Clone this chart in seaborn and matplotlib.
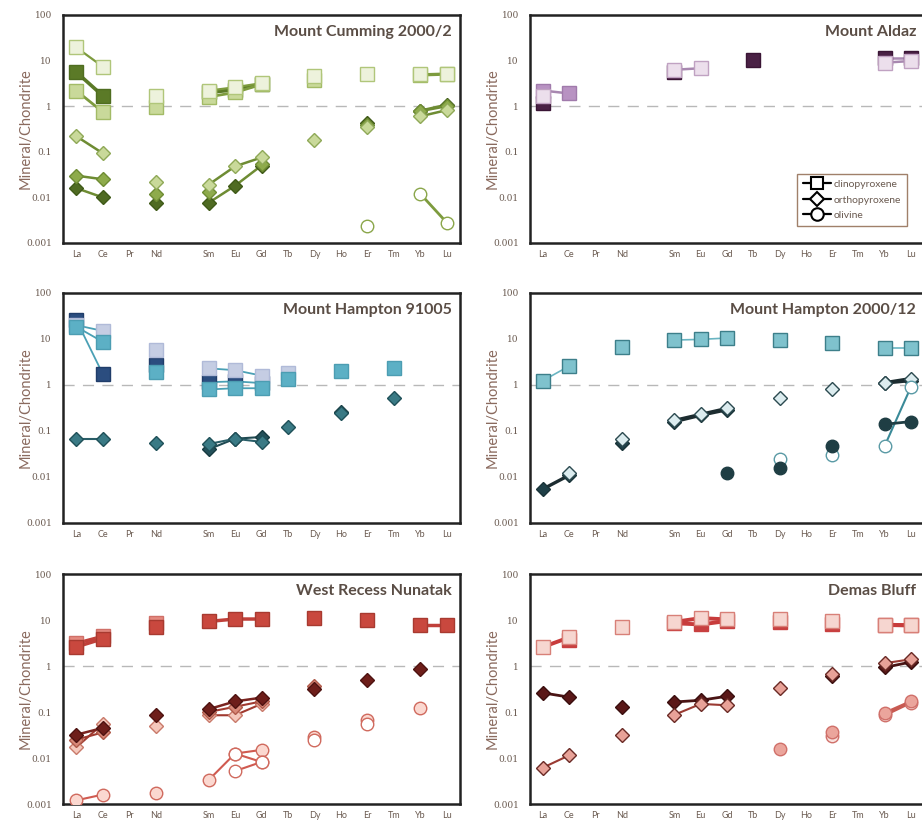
import numpy as np
import pandas as pd
import seaborn as sns
import matplotlib.pyplot as plt
from matplotlib.lines import Line2D

n = np.nan

ELEMENTS = ['La', 'Ce', 'Pr', 'Nd', '', 'Sm', 'Eu', 'Gd', 'Tb', 'Dy', 'Ho', 'Er', 'Tm', 'Yb', 'Lu']
Y_TICKS = [0.001, 0.01, 0.1, 1, 10, 100]
Y_TICK_LABELS = ['0.001', '0.01', '0.1', '1', '10', '100']
LEGEND_LABELS = ['clinopyroxene', 'orthopyroxene', 'olivine']

# Mount Cumming 2000/2
MC_CPX_DARK = [5.6, 1.7, n, n, n, 2.0, 2.3, 3.0, n, n, n, n, n, n, n]
MC_CPX_MID = [2.2, 0.75, n, 0.95, n, 1.6, 2.0, 3.0, n, 3.8, n, n, n, 4.8, 5.0]
MC_CPX_PALE = [19.5, 7.4, n, 1.7, n, 2.2, 2.6, 3.2, n, 4.7, n, 5.2, n, 5.0, 5.2]
MC_OPX_DARK = [0.016, 0.010, n, 0.0076, n, 0.0076, 0.018, 0.05, n, n, n, 0.42, n, 0.80, 1.08]
MC_OPX_MID = [0.030, 0.025, n, 0.012, n, 0.013, n, 0.055, n, n, n, 0.38, n, 0.78, 1.0]
MC_OPX_LIGHT = [0.22, 0.093, n, 0.022, n, 0.019, 0.048, 0.075, n, 0.18, n, 0.35, n, 0.60, 0.82]
MC_OL = [n, n, n, n, n, n, n, n, n, n, n, 0.0024, n, 0.012, 0.0028]

# Mount Aldaz
MA_CPX_DARK = [1.15, n, n, n, n, 5.6, n, n, 10.5, n, n, n, n, 11.5, 11.5]
MA_CPX_MID = [2.2, 1.9, n, n, n, n, n, n, n, n, n, n, n, n, n]
MA_CPX_PALE = [1.65, n, n, n, n, 6.3, 6.8, n, n, n, n, n, n, 9.0, 9.8]

# Mount Hampton 91005 (Tb analyses are separate points, not joined to Gd)
MH9_CPX_NAVY = [26, 1.75, n, 2.7, n, 1.15, 1.2, 1.1, n, n, n, n, n, n, n]
MH9_CPX_PALE = [20, 15, n, 5.8, n, 2.3, 2.1, 1.6, n, n, n, n, n, n, n]
MH9_CPX_TEAL = [18.5, 8.7, n, 1.95, n, 0.8, 0.85, 0.85, n, n, 2.0, n, 2.35, n, n]
MH9_CPX_PALE_TB = [n, n, n, n, n, n, n, n, 1.8, n, n, n, n, n, n]
MH9_CPX_TEAL_TB = [n, n, n, n, n, n, n, n, 1.38, n, n, n, n, n, n]
MH9_OPX_A = [0.068, 0.068, n, 0.054, n, 0.052, 0.068, 0.058, n, n, 0.25, n, 0.53, n, n]
MH9_OPX_B = [n, n, n, n, n, 0.040, 0.068, 0.074, n, n, 0.26, n, n, n, n]
MH9_OPX_TB = [n, n, n, n, n, n, n, n, 0.12, n, n, n, n, n, n]

# Mount Hampton 2000/12
MH12_CPX = [1.25, 2.6, n, 6.8, n, 9.5, 9.8, 10.5, n, 9.5, n, 8.0, n, 6.5, 6.5]
MH12_OPX_DARK = [0.0055, 0.011, n, 0.055, n, 0.16, 0.22, 0.29, n, n, n, n, n, 1.1, 1.25]
MH12_OPX_LIGHT = [n, 0.012, n, 0.068, n, 0.17, 0.23, 0.31, n, 0.52, n, 0.80, n, 1.12, 1.38]
MH12_OL_DARK = [n, n, n, n, n, n, n, 0.0125, n, 0.016, n, 0.047, n, 0.14, 0.16]
MH12_OL_WHITE = [n, n, n, n, n, n, n, n, n, 0.025, n, 0.030, n, 0.047, 0.9]

# West Recess Nunatak
WR_CPX_LIGHT = [3.1, 4.4, n, 8.8, n, n, n, n, n, n, n, n, n, n, n]
WR_CPX = [2.6, 3.9, n, 7.1, n, 9.3, 10.5, 10.5, n, 11.0, n, 9.8, n, 7.8, 7.8]
WR_OPX_LIGHT = [0.017, 0.055, n, 0.05, n, 0.085, 0.085, 0.15, n, n, n, n, n, n, n]
WR_OPX_MID = [0.025, 0.036, n, n, n, 0.10, 0.13, 0.17, n, 0.36, n, n, n, n, n]
WR_OPX_DARK = [0.032, 0.045, n, 0.088, n, 0.115, 0.17, 0.205, n, 0.31, n, 0.50, n, 0.86, n]
WR_OL_A = [0.0012, 0.0016, n, 0.0017, n, 0.0033, 0.0125, 0.015, n, 0.028, n, 0.068, n, 0.12, n]
WR_OL_B = [n, n, n, n, n, n, 0.0125, 0.0082, n, 0.025, n, 0.055, n, n, n]
WR_OL_C = [n, n, n, n, n, n, 0.0052, 0.0082, n, n, n, n, n, n, n]

# Demas Bluff
DB_CPX_RED = [n, 3.6, n, n, n, 8.5, 8.0, 9.5, n, 9.0, n, 8.3, n, 7.8, 7.6]
DB_CPX = [2.6, 4.2, n, 7.1, n, 9.1, 11.0, 10.3, n, 10.3, n, 9.6, n, 7.9, 7.7]
DB_OPX_DARK = [0.26, 0.21, n, 0.13, n, 0.165, 0.18, 0.22, n, n, n, 0.60, n, 0.93, 1.22]
DB_OPX_PINK = [0.0062, 0.0115, n, 0.031, n, 0.087, 0.15, 0.14, n, 0.33, n, 0.66, n, 1.15, 1.4]
DB_OL_LIGHT = [n, n, n, n, n, n, n, n, n, n, n, 0.030, n, 0.085, 0.16]
DB_OL = [n, n, n, n, n, n, n, n, n, 0.016, n, 0.036, n, 0.095, 0.17]

SQ, DI, CI = 9.5, 7.2, 9.0

# (values, marker, size, face, edge, line colour, line width)
PANELS = [
    ('Mount Cumming 2000/2', [
        (MC_CPX_DARK, 's', SQ, '#5b7a27', '#4f6d20', '#5b7a27', 2.6),
        (MC_CPX_MID, 's', SQ, '#c9d99a', '#a3bb66', '#7d9b3e', 2.0),
        (MC_CPX_PALE, 's', SQ, '#edf2dc', '#b0c67a', '#7d9b3e', 1.6),
        (MC_OPX_DARK, 'D', DI, '#4f6b22', '#3f5a18', '#6e8c33', 1.8),
        (MC_OPX_MID, 'D', DI, '#8eab4b', '#6e8c33', '#6e8c33', 1.8),
        (MC_OPX_LIGHT, 'D', DI, '#c9d99a', '#8fa957', '#6e8c33', 1.8),
        (MC_OL, 'o', CI, 'white', '#8aa64a', '#7d9b3e', 2.0),
    ]),
    ('Mount Aldaz', [
        (MA_CPX_DARK, 's', SQ, '#4a2145', '#3a1535', '#a888b0', 1.8),
        (MA_CPX_MID, 's', SQ, '#b892c2', '#a07aab', '#a888b0', 1.8),
        (MA_CPX_PALE, 's', SQ, '#ecdfec', '#c0a2c2', '#a888b0', 1.8),
    ]),
    ('Mount Hampton 91005', [
        (MH9_CPX_NAVY, 's', SQ, '#2b4d7f', '#203d6a', '#4aa0b5', 1.3),
        (MH9_CPX_PALE, 's', SQ, '#c5cde3', '#b0bad8', '#4aa0b5', 1.3),
        (MH9_CPX_PALE_TB, 's', SQ, '#c5cde3', '#b0bad8', '#4aa0b5', 1.3),
        (MH9_CPX_TEAL, 's', SQ, '#5cb0c5', '#4c9db2', '#4aa0b5', 1.3),
        (MH9_CPX_TEAL_TB, 's', SQ, '#5cb0c5', '#4c9db2', '#4aa0b5', 1.3),
        (MH9_OPX_B, 'D', DI, '#24505a', '#163a40', '#1f4a52', 1.5),
        (MH9_OPX_A, 'D', DI, '#3a7a85', '#1f5058', '#2a5e68', 1.5),
        (MH9_OPX_TB, 'D', DI, '#3a7a85', '#1f5058', '#2a5e68', 1.5),
    ]),
    ('Mount Hampton 2000/12', [
        (MH12_CPX, 's', SQ, '#7fc2cd', '#3d7f8a', '#6ab5c2', 1.2),
        (MH12_OPX_DARK, 'D', DI, '#1f4048', '#1a3338', '#1c2c30', 2.4),
        (MH12_OPX_LIGHT, 'D', DI, '#dcecef', '#2c4a50', '#1c2c30', 2.4),
        (MH12_OL_WHITE, 'o', CI, 'white', '#5a9aa5', '#3a8a98', 1.5),
        (MH12_OL_DARK, 'o', CI, '#1f3e44', '#1f3e44', '#1f3e44', 2.0),
    ]),
    ('West Recess Nunatak', [
        (WR_CPX_LIGHT, 's', SQ, '#e48a80', '#d07068', '#c0403a', 2.5),
        (WR_CPX, 's', SQ, '#c9483e', '#a83a30', '#c0403a', 2.5),
        (WR_OPX_LIGHT, 'D', DI, '#f5c8bc', '#c97a6a', '#a03a30', 1.5),
        (WR_OPX_MID, 'D', DI, '#d88878', '#b05a4a', '#a03a30', 1.5),
        (WR_OPX_DARK, 'D', DI, '#6e1e1a', '#4e1210', '#7a2420', 1.8),
        (WR_OL_A, 'o', CI, '#fbd8d0', '#d06a5e', '#d05a50', 1.5),
        (WR_OL_B, 'o', CI, 'white', '#d06a5e', '#d05a50', 1.5),
        (WR_OL_C, 'o', CI, 'white', '#d06a5e', '#d05a50', 1.5),
    ]),
    ('Demas Bluff', [
        (DB_CPX_RED, 's', SQ, '#c84040', '#c84040', '#c83c3c', 2.8),
        (DB_CPX, 's', SQ, '#f6d6d0', '#d88078', '#c83c3c', 2.8),
        (DB_OPX_DARK, 'D', DI, '#5a1818', '#3a0e0e', '#4a1414', 2.0),
        (DB_OPX_PINK, 'D', DI, '#e8a298', '#6a2a25', '#9a3a32', 1.5),
        (DB_OL_LIGHT, 'o', CI, '#f8e0dc', '#d0706a', '#c85a52', 2.0),
        (DB_OL, 'o', CI, '#eba59c', '#d0706a', '#c85a52', 2.0),
    ]),
]


def segments(values):
    # split a series at its gaps so that lines are broken like in the original
    rows = []
    seg = 0
    prev = False
    for i, v in enumerate(values):
        if np.isnan(v):
            if prev:
                seg += 1
            prev = False
            continue
        rows.append({'pos': i, 'val': v, 'seg': seg})
        prev = True
    return pd.DataFrame(rows)


def style_axes(ax, title):
    ax.set_yscale('log')
    ax.set_ylim(0.001, 100)
    ax.set_xlim(-0.5, 14.5)
    ax.set_yticks(Y_TICKS)
    ax.set_yticklabels(Y_TICK_LABELS, family='DejaVu Serif', fontsize=6.5, color='#6a5a50')
    ax.yaxis.set_minor_locator(plt.NullLocator())
    ax.tick_params(axis='y', length=0, pad=8)
    ax.set_xticks(range(len(ELEMENTS)))
    ax.set_xticklabels(ELEMENTS, fontsize=6.5, color='#6a5a50')
    ax.set_xticks(np.arange(0.5, 14, 1), minor=True)
    ax.tick_params(axis='x', which='major', length=0, pad=5)
    ax.tick_params(axis='x', which='minor', length=3, width=0.8, color='#555555', direction='out')
    ax.set_xlabel('')
    ax.set_ylabel('Mineral/Chondrite', fontsize=10.5, color='#8a6a5e', labelpad=-5)
    for sp in ax.spines.values():
        sp.set_linewidth(1.8)
        sp.set_color('#222222')
    ax.axhline(1, color='#b8b8b8', lw=1, ls=(0, (8, 6)), zorder=0)
    ax.text(0.98, 0.925, title, transform=ax.transAxes, ha='right', va='center',
            fontsize=11.5, fontweight='bold', color='#5a4d45')


sns.set_style('white')
plt.rcParams['font.family'] = ['Lato', 'DejaVu Sans']

fig = plt.figure(figsize=(9.22, 8.27), dpi=100)
W, H = 922, 827
cols = [(63, 397), (530, 394)]
rows = [(15, 243), (293, 523), (574, 804)]

for k, (title, series) in enumerate(PANELS):
    r, c = divmod(k, 2)
    x0, w = cols[c]
    top, bottom = rows[r]
    ax = fig.add_axes([x0 / W, 1 - bottom / H, w / W, (bottom - top) / H])
    ax.set_yscale('log')
    for z, (vals, marker, ms, face, edge, line, lw) in enumerate(series):
        df = segments(vals)
        sns.lineplot(data=df, x='pos', y='val', units='seg', estimator=None, sort=False,
                     color=line, lw=lw, marker=marker, markersize=ms,
                     markerfacecolor=face, markeredgecolor=edge, markeredgewidth=1.0,
                     ax=ax, legend=False, zorder=3 + z)
    style_axes(ax, title)
    if k == 1:
        handles = [Line2D([0], [0], color='black', lw=1.6, marker=m, markersize=s,
                          markerfacecolor='white', markeredgecolor='black', markeredgewidth=1.5)
                   for m, s in [('s', 9), ('D', 7), ('o', 9)]]
        leg = ax.legend(handles, LEGEND_LABELS, loc='lower left', bbox_to_anchor=(0.665, 0.05),
                        fontsize=7.5, labelcolor='#6a5a50', frameon=True, fancybox=False,
                        edgecolor='#a0806a', framealpha=1, handlelength=2.6,
                        handletextpad=0.3, labelspacing=0.6, borderpad=0.6)
        leg.get_frame().set_linewidth(1.0)

fig.savefig('out.png', dpi=100)
